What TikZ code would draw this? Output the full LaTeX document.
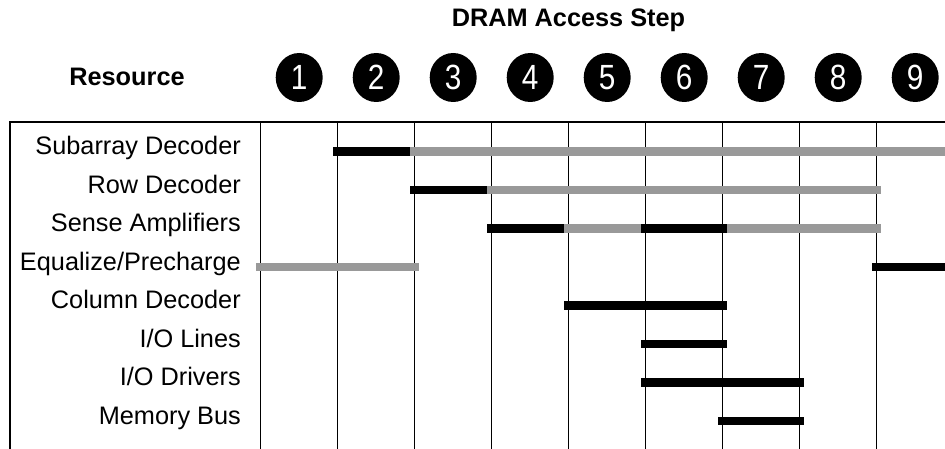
\documentclass[tikz,border=0pt]{standalone}
\usepackage{fontspec}
\setmainfont{Liberation Sans}
\usetikzlibrary{shapes.geometric}
\begin{document}
\begin{tikzpicture}[x=1pt,y=-1pt,
  grid/.style={line width=1.3pt,black},
  barblack/.style={line width=8.5pt,black,line cap=rect},
  bargray/.style={line width=8.5pt,color={rgb,255:red,153;green,153;blue,153},line cap=rect},
  rowlabel/.style={anchor=base east,inner sep=0pt,font=\fontsize{25.3}{30}\selectfont},
  head/.style={inner sep=0pt,font=\fontsize{25.3}{30}\selectfont\bfseries},
  stepnum/.style={ellipse,fill=black,text=white,minimum width=47pt,minimum height=49pt,inner sep=0pt,font=\fontsize{35}{38}\selectfont}
]
\useasboundingbox (0,0) rectangle (945,449);
\clip (0,0) rectangle (945,449);
% grid x positions
\foreach \i in {0,...,8} {
  \coordinate (gt\i) at ({260.7+77*\i},122);
  \coordinate (gb\i) at ({260.7+77*\i},449);
  \draw[grid] (gt\i) -- (gb\i);
}
\coordinate (tl) at (10,122);
\coordinate (tr) at (946,122);
\coordinate (bl) at (10,449);
\draw[grid] (bl) -- (tl) -- (tr);
% title and headers
\node[head] (title) at (568.5,20) {DRAM Access Step};
\node[head] (resource) at (127,77) {Resource};
\foreach \i in {1,...,9} {
  \node[stepnum] (s\i) at ({299.2+77*(\i-1)},77.5) {\scalebox{0.85}[1]{\i}};
}
% rows
\foreach \lab [count=\k from 0] in {Subarray Decoder,Row Decoder,Sense Amplifiers,Equalize/Precharge,Column Decoder,I/O Lines,I/O Drivers,Memory Bus} {
  \node[rowlabel] (r\k) at (241,{151.7+38.5*\k+3.2}) {\lab};
}
% helper coordinates for bars
\foreach \k in {0,...,7} {
  \foreach \i in {0,...,8} {
    \coordinate (p\k-\i) at ({260.7+77*\i},{151.7+38.5*\k});
  }
  \coordinate (pe\k) at (950,{151.7+38.5*\k});
}
% Subarray Decoder
\draw[barblack] (p0-1) -- (p0-2);
\draw[bargray] (p0-2) -- (pe0);
% Row Decoder
\draw[barblack] (p1-2) -- (p1-3);
\draw[bargray] (p1-3) -- (p1-8);
% Sense Amplifiers
\draw[barblack] (p2-3) -- (p2-4);
\draw[bargray] (p2-4) -- (p2-5);
\draw[bargray] (p2-6) -- (p2-8);
\draw[barblack] (p2-5) -- (p2-6);
% Equalize/Precharge
\draw[bargray] (p3-0) -- (p3-2);
\draw[barblack] (p3-8) -- (pe3);
% Column Decoder
\draw[barblack] (p4-4) -- (p4-6);
% I/O Lines
\draw[barblack] (p5-5) -- (p5-6);
% I/O Drivers
\draw[barblack] (p6-5) -- (p6-7);
% Memory Bus
\draw[barblack] (p7-6) -- (p7-7);
\end{tikzpicture}
\end{document}
